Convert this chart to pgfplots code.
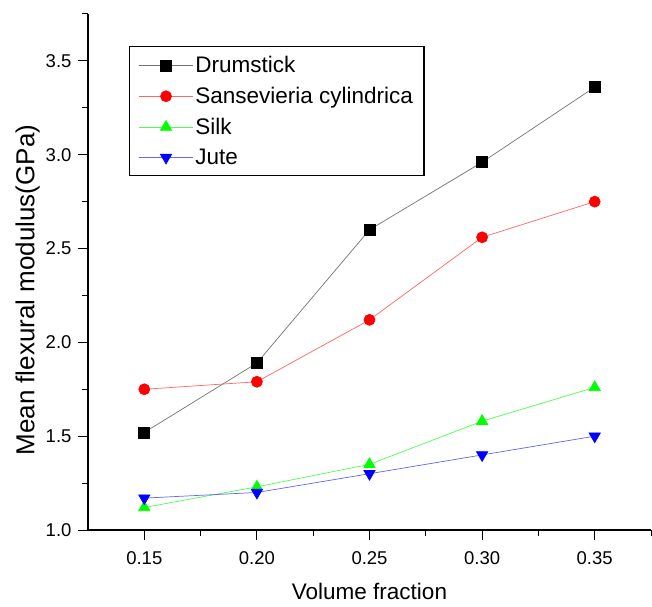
\documentclass[border=0pt]{standalone}
\usepackage{fontspec}
\setmainfont{Liberation Sans}
\usepackage{pgfplots}
\pgfplotsset{compat=1.18}
\begin{document}
\begin{tikzpicture}
\begin{axis}[
  name=ax,
  scale only axis,
  width=563pt, height=516pt,
  xmin=0.125, xmax=0.375,
  ymin=1.0, ymax=3.75,
  axis lines=left,
  axis line style={-, line width=1.1pt},
  xtick={0.15,0.20,0.25,0.30,0.35},
  minor xtick={0.175,0.225,0.275,0.325,0.375},
  ytick={1.0,1.5,2.0,2.5,3.0,3.5},
  minor ytick={1.25,1.75,2.25,2.75,3.25,3.75},
  tick align=outside,
  major tick length=10pt,
  minor tick length=6pt,
  tick style={black, line width=1.0pt},
  /pgf/number format/assume math mode=true,
  xticklabel style={/pgf/number format/fixed, /pgf/number format/fixed zerofill, /pgf/number format/precision=2, font=\fontsize{18.5}{21}\selectfont, yshift=-8pt},
  yticklabel style={/pgf/number format/fixed, /pgf/number format/fixed zerofill, /pgf/number format/precision=1, font=\fontsize{18.5}{21}\selectfont, xshift=-3pt},
  scaled ticks=false,
  xlabel={Volume fraction},
  ylabel={Mean flexural modulus(GPa)},
  xlabel style={at={(axis description cs:0.5,-0.12)}, anchor=center, font=\fontsize{22.5}{26}\selectfont},
  ylabel style={at={(axis description cs:-0.107,0.465)}, anchor=center, font=\fontsize{26}{30}\selectfont},
  legend style={at={(axis description cs:0.073,0.938)}, anchor=north west, draw=black, line width=1.1pt, font=\fontsize{22.5}{27}\selectfont, row sep=9pt, inner xsep=9pt, inner ysep=8pt},
  legend cell align=left,
  legend image code/.code={\draw[#1, mark repeat=2, mark phase=2] plot coordinates {(0cm,0cm) (0.95cm,0cm) (1.9cm,0cm)};},
]
\addplot[color=black!55, line width=0.7pt, mark=square*, mark options={fill=black, draw=black, solid}, mark size=5.5pt]
  coordinates {(0.15,1.52) (0.20,1.89) (0.25,2.60) (0.30,2.96) (0.35,3.36)};
\addlegendentry{Drumstick}
\addplot[color=red!60, line width=0.7pt, mark=*, mark options={fill=red, draw=red, solid}, mark size=5.5pt]
  coordinates {(0.15,1.75) (0.20,1.79) (0.25,2.12) (0.30,2.56) (0.35,2.75)};
\addlegendentry{Sansevieria cylindrica\hspace{7pt}}
\addplot[color=green!70!white, line width=0.7pt, mark=triangle*, mark options={fill=green, draw=green, solid}, mark size=6.5pt]
  coordinates {(0.15,1.12) (0.20,1.23) (0.25,1.35) (0.30,1.58) (0.35,1.76)};
\addlegendentry{Silk}
\addplot[color=blue!60!white, line width=0.7pt, mark=triangle*, mark options={fill=blue, draw=blue, solid, rotate=180}, mark size=6.5pt]
  coordinates {(0.15,1.17) (0.20,1.20) (0.25,1.30) (0.30,1.40) (0.35,1.50)};
\addlegendentry{Jute}
\end{axis}
\pgfresetboundingbox
\path[use as bounding box] (ax.south west) ++(-88pt,-76pt) rectangle ++(652pt,606pt);
\end{tikzpicture}
\end{document}
